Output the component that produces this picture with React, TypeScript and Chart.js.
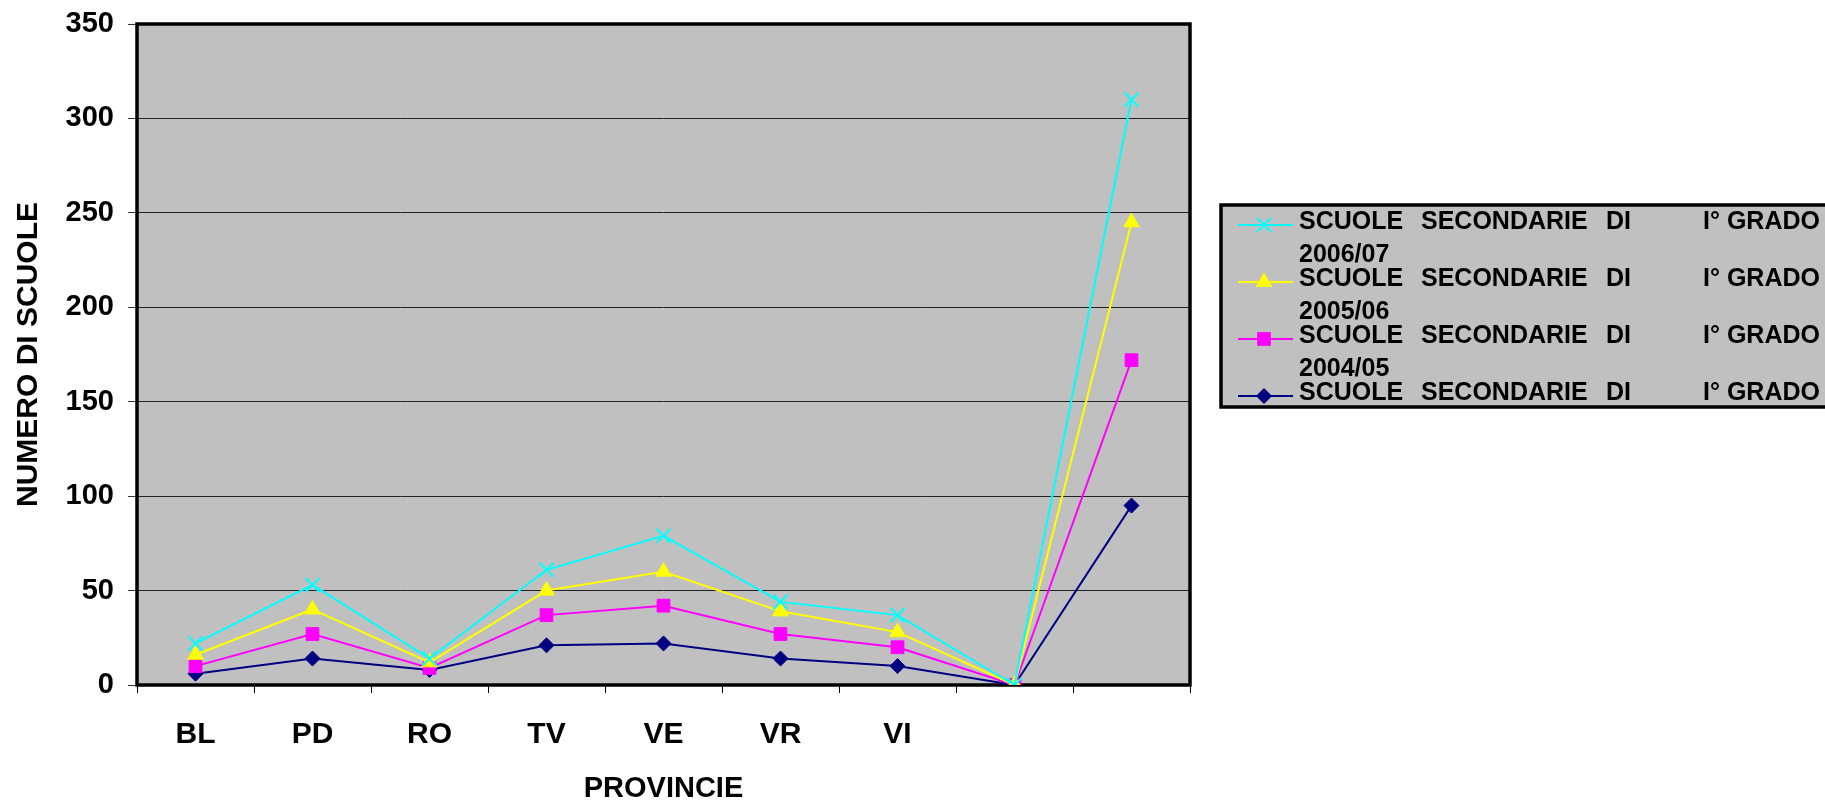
import React, { useEffect, useRef } from "react";
import { Chart, registerables } from "chart.js";
import { drawPoint } from "chart.js/helpers";

Chart.register(...registerables);

const categories = ["BL", "PD", "RO", "TV", "VE", "VR", "VI", "", ""];
const yTicks = [0, 50, 100, 150, 200, 250, 300, 350];

const labels2006 = ["SCUOLE", "SECONDARIE", "DI", "I° GRADO", "2006/07"];
const labels2005 = ["SCUOLE", "SECONDARIE", "DI", "I° GRADO", "2005/06"];
const labels2004 = ["SCUOLE", "SECONDARIE", "DI", "I° GRADO", "2004/05"];
const labels2003 = ["SCUOLE", "SECONDARIE", "DI", "I° GRADO", "2003/04"];

const values2006 = [22, 53, 14, 61, 79, 44, 37, 0, 310];
const values2005 = [16, 40, 12, 50, 60, 39, 28, 0, 245];
const values2004 = [10, 27, 9, 37, 42, 27, 20, 0, 172];
const values2003 = [6, 14, 8, 21, 22, 14, 10, 0, 95];

const FONT = "'Liberation Sans', Arial, sans-serif";

const plotBg = {
  id: "plotBg",
  beforeDraw(chart: any) {
    const { ctx, chartArea: a } = chart;
    ctx.save();
    ctx.fillStyle = "#C0C0C0";
    ctx.fillRect(a.left, a.top, a.right - a.left, a.bottom - a.top);
    ctx.restore();
  },
  beforeDatasetsDraw(chart: any) {
    const { ctx, chartArea: a } = chart;
    ctx.save();
    ctx.strokeStyle = "#000";
    ctx.lineWidth = 3.5;
    ctx.strokeRect(a.left, a.top, a.right - a.left, a.bottom - a.top);
    ctx.restore();
  },
};

const customLegend = {
  id: "customLegend",
  afterDraw(chart: any) {
    const { ctx } = chart;
    const bx = 1221, by = 205, bw = 620, bh = 202;
    ctx.save();
    ctx.fillStyle = "#C0C0C0";
    ctx.fillRect(bx, by, bw, bh);
    ctx.strokeStyle = "#000";
    ctx.lineWidth = 3.5;
    ctx.strokeRect(bx, by, bw, bh);
    ctx.beginPath();
    ctx.rect(bx + 2, by + 2, bw - 4, bh - 4);
    ctx.clip();
    const wordX = [78, 200, 385, 482];
    chart.data.datasets.forEach((ds: any, i: number) => {
      const rowY = by + 17 + i * 57;
      ctx.strokeStyle = ds.borderColor;
      ctx.lineWidth = 2;
      ctx.beginPath();
      ctx.moveTo(bx + 17, rowY + 3);
      ctx.lineTo(bx + 72, rowY + 3);
      ctx.stroke();
      ctx.fillStyle = ds.pointBackgroundColor;
      ctx.strokeStyle = ds.pointBorderColor;
      ctx.lineWidth = ds.pointBorderWidth;
      drawPoint(ctx, { pointStyle: ds.pointStyle, radius: ds.pointRadius, rotation: 0, borderWidth: ds.pointBorderWidth } as any, bx + 43, rowY + 3);
      ctx.fillStyle = "#000";
      ctx.font = `bold 25px ${FONT}`;
      ctx.textBaseline = "middle";
      ctx.textAlign = "left";
      const words = ds.legendWords as string[];
      for (let w = 0; w < 4; w++) ctx.fillText(words[w], bx + wordX[w], rowY);
      ctx.fillText(words[4], bx + wordX[0], rowY + 33);
    });
    ctx.restore();
  },
};

function makeDs(words: string[], data: number[], color: string, style: string, radius: number, bw: number) {
  return {
    label: words.join(" "),
    legendWords: words,
    data,
    borderColor: color,
    backgroundColor: color,
    borderWidth: 2,
    pointStyle: style,
    pointRadius: radius,
    pointBackgroundColor: color,
    pointBorderColor: color,
    pointBorderWidth: bw,
    tension: 0,
  };
}

export default function App() {
  const ref = useRef<HTMLCanvasElement>(null);
  useEffect(() => {
    document.body.style.margin = "0";
    const chart = new Chart(ref.current as HTMLCanvasElement, {
      type: "line",
      data: {
        labels: categories,
        datasets: [
          makeDs(labels2006, values2006, "#00FFFF", "crossRot", 10, 2),
          makeDs(labels2005, values2005, "#FFFF00", "triangle", 9, 1),
          makeDs(labels2004, values2004, "#FF00FF", "rect", 9, 1),
          makeDs(labels2003, values2003, "#000080", "rectRot", 7.5, 1),
        ] as any,
      },
      options: {
        responsive: false,
        animation: false,
        layout: { autoPadding: false, padding: { top: 24, right: 635, left: 0, bottom: 0 } },
        plugins: { legend: { display: false }, tooltip: { enabled: false } },
        scales: {
          x: {
            type: "category",
            offset: true,
            afterFit: (s: any) => { s.height = 118; s.paddingLeft = 0; s.paddingRight = 0; },
            grid: { offset: true, drawOnChartArea: false, drawTicks: true, tickLength: 8, color: "#000", lineWidth: 1 },
            border: { display: false },
            ticks: { color: "#000", padding: 24, font: { family: FONT, size: 30, weight: "bold", lineHeight: 1.2 }, maxRotation: 0, autoSkip: false },
            title: { display: true, text: "PROVINCIE", color: "#000", padding: 0, font: { family: FONT, size: 29, weight: "bold", lineHeight: 1 } },
          },
          y: {
            min: 0,
            max: 350,
            afterFit: (s: any) => { s.width = 137; s.paddingTop = 0; s.paddingBottom = 0; },
            afterBuildTicks: (s: any) => { s.ticks = yTicks.map((v) => ({ value: v })); },
            grid: { color: "#222", lineWidth: 1, drawTicks: true, tickLength: 9, tickColor: "#333" },
            border: { display: false },
            ticks: { color: "#000", padding: 14, font: { family: FONT, size: 29, weight: "bold" } },
            title: { display: true, text: "NUMERO DI SCUOLE", color: "#000", padding: { top: 14, bottom: 0 }, font: { family: FONT, size: 30, weight: "bold", lineHeight: 1 } },
          },
        },
      },
      plugins: [plotBg, customLegend],
    });
    return () => chart.destroy();
  }, []);
  return <canvas ref={ref} width={1825} height={803} style={{ display: "block" }} />;
}
